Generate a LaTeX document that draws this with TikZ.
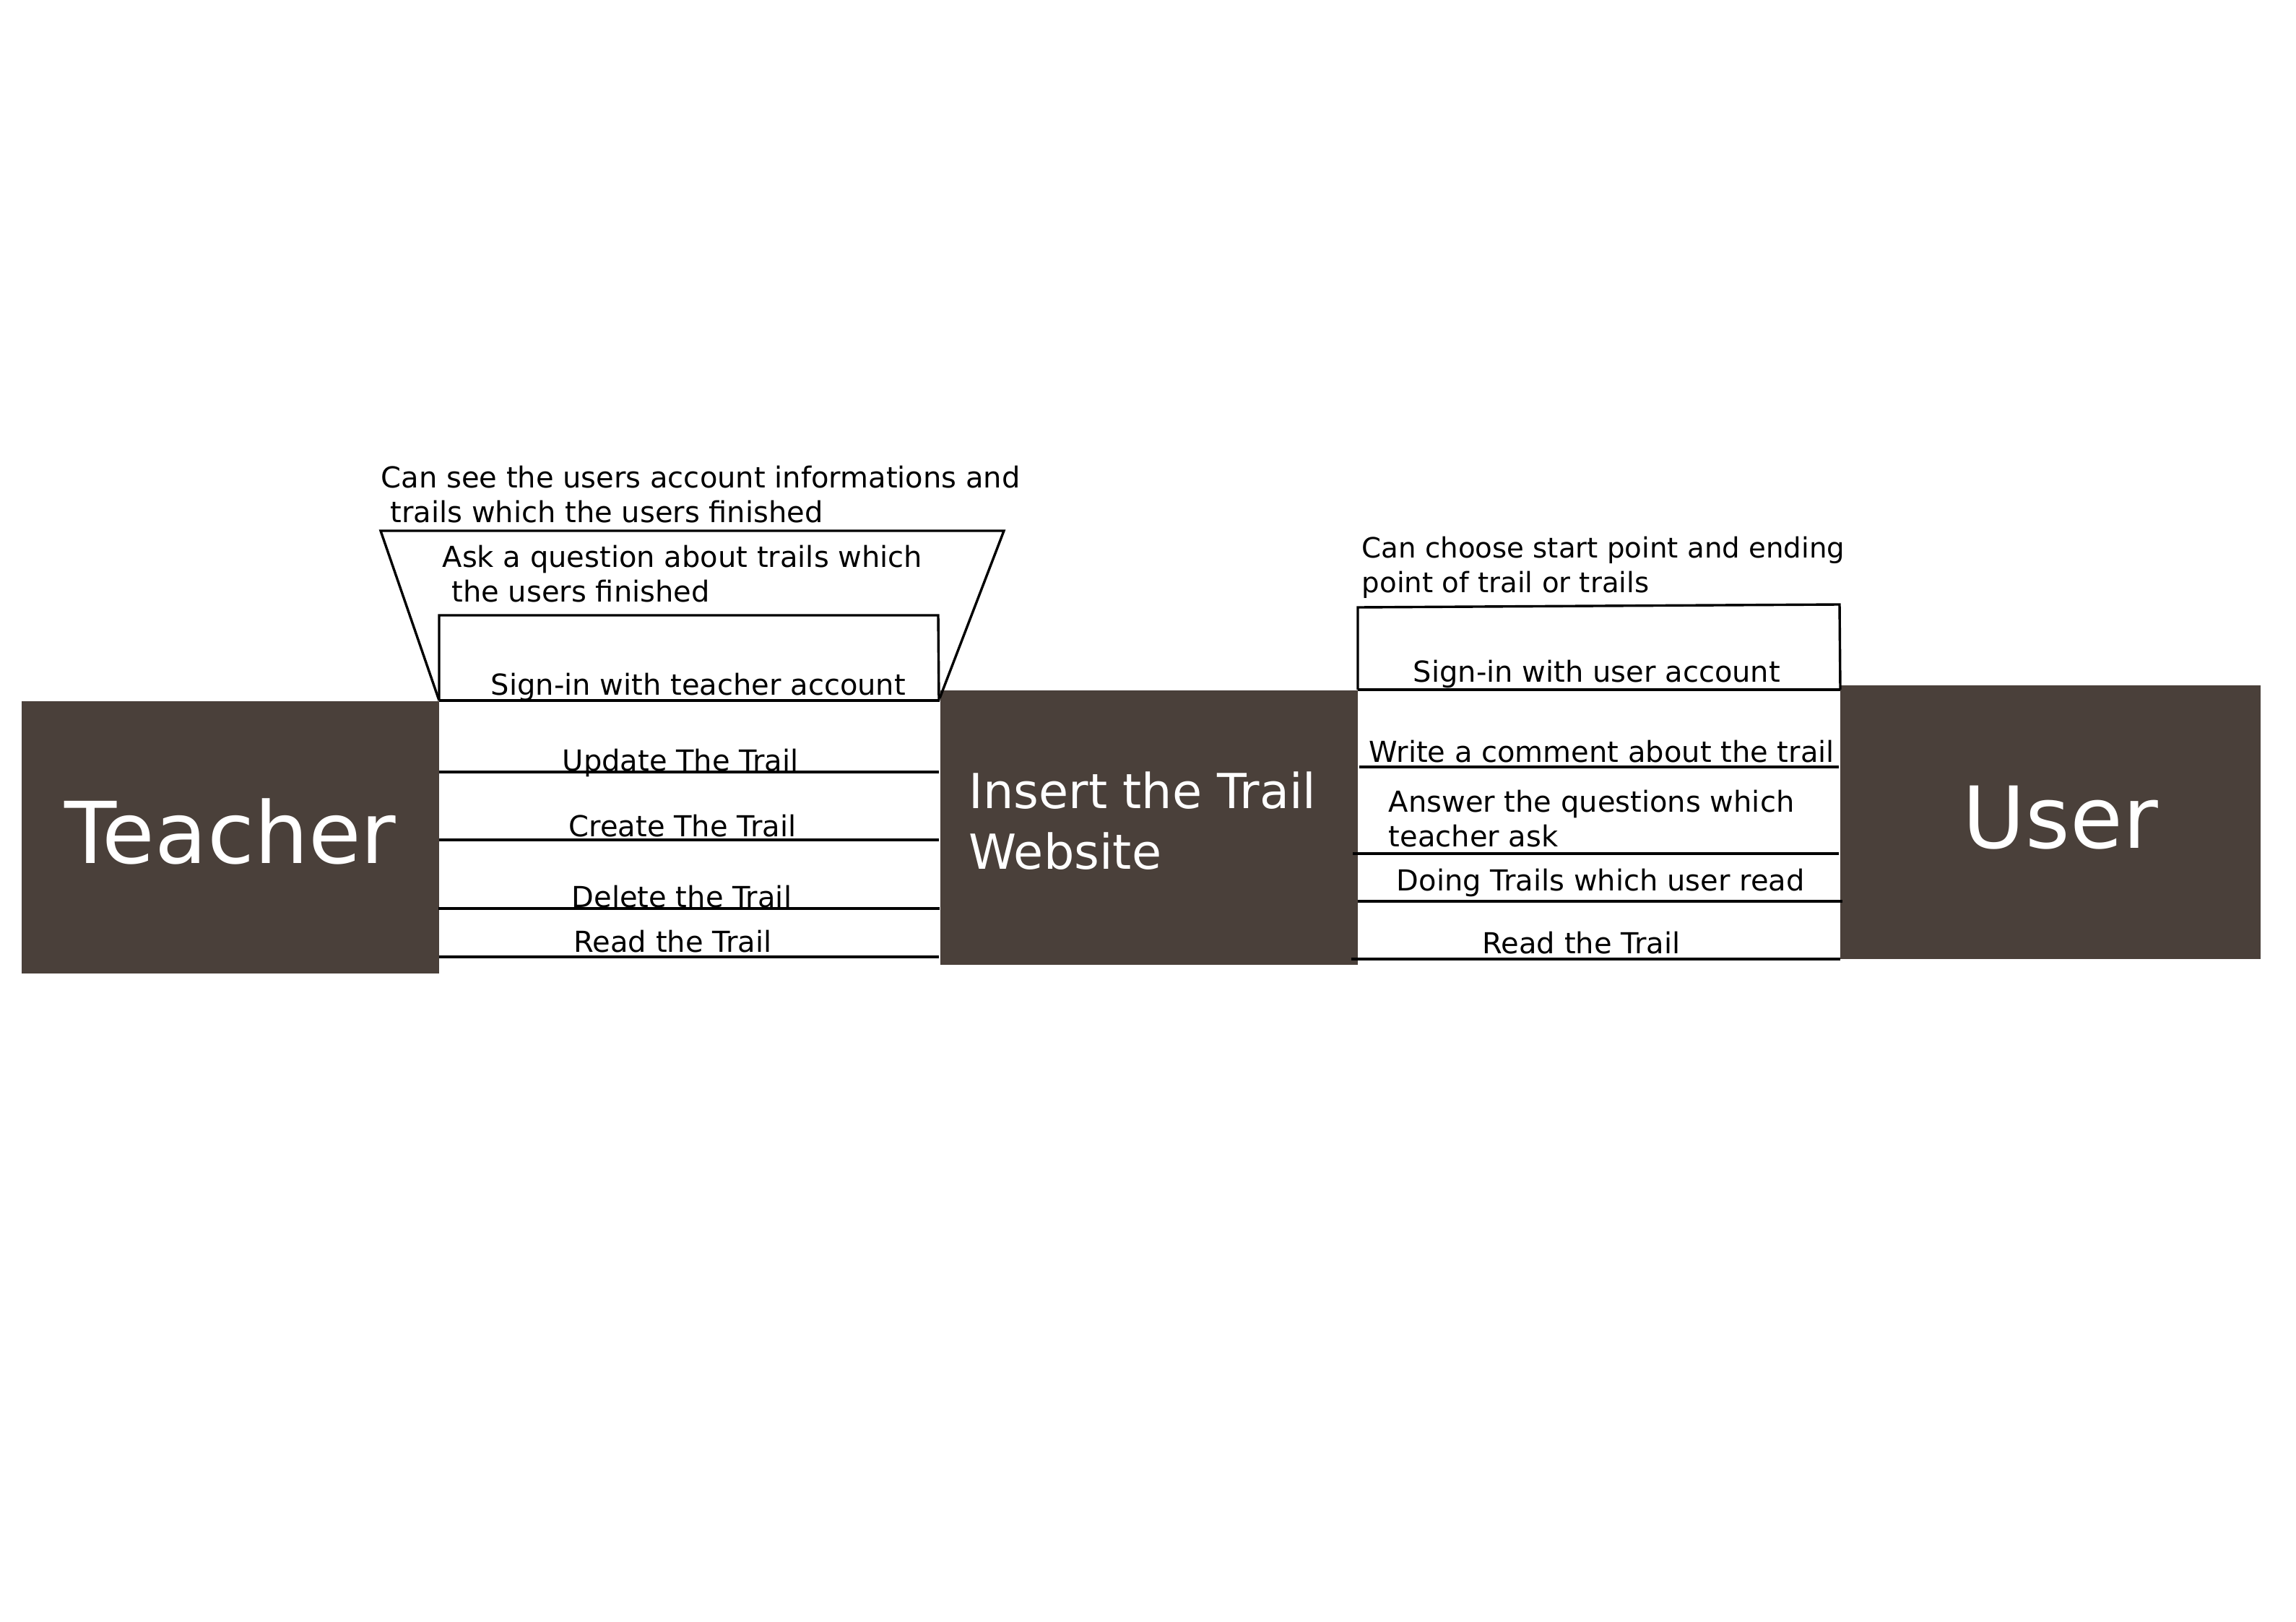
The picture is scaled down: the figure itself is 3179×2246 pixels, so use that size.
\documentclass[tikz,border=0pt]{standalone}
\usepackage{fontspec}
\setmainfont{DejaVu Sans}
\definecolor{boxc}{HTML}{4A403A}
\begin{document}
\begin{tikzpicture}[x=0.2648pt,y=-0.2648pt,
  lbl/.style={inner sep=0pt, anchor=base west, font=\fontsize{10.6pt}{12.5pt}\selectfont, align=left},
  ln/.style={line width=0.9pt, black},
  darkbox/.style={fill=boxc},
  bigtxt/.style={inner sep=0pt, anchor=base, text=white},
  webtxt/.style={inner sep=0pt, anchor=base west, text=white, align=left, font=\fontsize{17.7pt}{22pt}\selectfont}]
\useasboundingbox[fill=white] (0,0) rectangle (3179,2246);
% dark boxes
\fill[darkbox] (30,971) rectangle (608,1348);
\node[bigtxt, font=\fontsize{31.3pt}{37pt}\selectfont] (teacher) at (319,1195) {Teacher};
\fill[darkbox] (1302,956) rectangle (1880,1336);
\node[webtxt] (website) at (1341,1203) {Insert the Trail\\Website};
\fill[darkbox] (2548,949) rectangle (3130,1328);
\node[bigtxt, font=\fontsize{31.4pt}{37pt}\selectfont] (user) at (2853,1174) {User};
% teacher side outlines
\draw[ln] (608,970) -- (527,735) -- (1390,735) -- (1301,967);
\draw[ln] (608,970) -- (608,852) -- (1299,852) -- (1300,970);
\draw[ln] (608,970) -- (1301,970);
\draw[ln] (608,1069) -- (1300,1069);
\draw[ln] (608,1163) -- (1300,1163);
\draw[ln] (607,1258) -- (1301,1258);
\draw[ln] (608,1325) -- (1300,1325);
% teacher side labels
\node[lbl] (seeinfo) at (527,723) {Can see the users account informations and\\\hspace*{.32em}trails which the users finished};
\node[lbl] (askq) at (612,833) {Ask a question about trails which\\\hspace*{.32em}the users finished};
\node[lbl] (tsign) at (679,962) {Sign-in with teacher account};
\node[lbl] (tupd) at (778,1067) {Update The Trail};
\node[lbl] (tcre) at (787,1158) {Create The Trail};
\node[lbl] (tdel) at (791,1256) {Delete the Trail};
\node[lbl] (tread) at (794,1318) {Read the Trail};
% user side outlines
\draw[ln] (1880,955) -- (1880,841) -- (2547,837) -- (2548,955);
\draw[ln] (1880,955) -- (2548,955);
\draw[ln] (1882,1062) -- (2546,1062);
\draw[ln] (1873,1182) -- (2546,1182);
\draw[ln] (1880,1248) -- (2551,1248);
\draw[ln] (1871,1328) -- (2548,1328);
% user side labels
\node[lbl, font=\fontsize{10.25pt}{12.5pt}\selectfont] (choose) at (1885,820) {Can choose start point and ending\\point of trail or trails};
\node[lbl] (usign) at (1956,944) {Sign-in with user account};
\node[lbl] (ucom) at (1895,1055) {Write a comment about the trail};
\node[lbl] (uans) at (1922,1172) {Answer the questions which\\teacher ask};
\node[lbl] (udo) at (1933,1233) {Doing Trails which user read};
\node[lbl] (uread) at (2052,1320) {Read the Trail};
\end{tikzpicture}
\end{document}
